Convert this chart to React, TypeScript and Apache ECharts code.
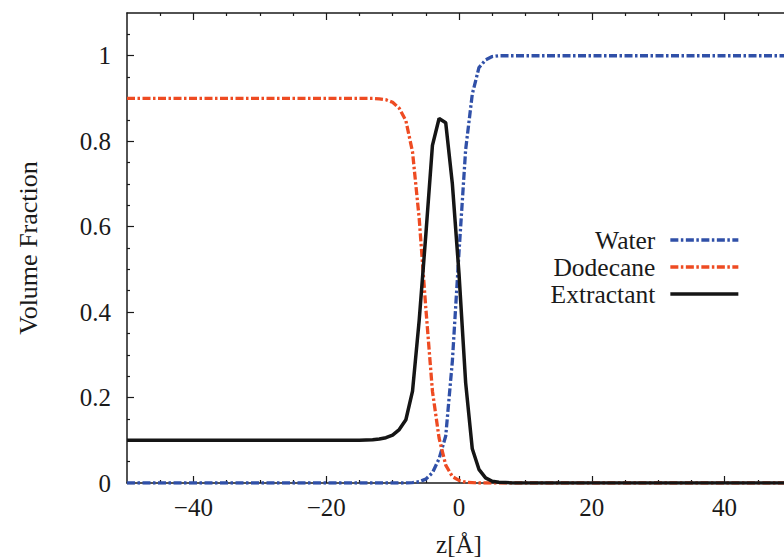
import React, { useEffect, useRef } from "react";
import * as echarts from "echarts";

const zValues = [-50, -40, -30, -20, -15, -13, -12, -11, -10, -9, -8, -7, -6, -5, -4, -3, -2, -1, 0, 1, 2, 3, 4, 5, 6, 7, 8, 10, 20, 30, 40, 50];
const water = [0, 0, 0, 0, 0, 0, 0, 0, 0, 0, 0, 0.001, 0.003, 0.009, 0.024, 0.057, 0.11, 0.285, 0.54, 0.78, 0.91, 0.972, 0.99, 0.998, 1, 1, 1, 1, 1, 1, 1, 1];
const dodecane = [0.9, 0.9, 0.9, 0.9, 0.9, 0.9, 0.899, 0.897, 0.891, 0.877, 0.848, 0.775, 0.62, 0.41, 0.215, 0.105, 0.042, 0.015, 0.006, 0.002, 0.001, 0, 0, 0, 0, 0, 0, 0, 0, 0, 0, 0];
const extractant = [0.1, 0.1, 0.1, 0.1, 0.1, 0.101, 0.103, 0.106, 0.112, 0.125, 0.148, 0.215, 0.38, 0.58, 0.79, 0.853, 0.843, 0.7, 0.49, 0.235, 0.08, 0.032, 0.012, 0.004, 0.002, 0.001, 0, 0, 0, 0, 0, 0];

const xMajorTicks = [-40, -20, 0, 20, 40];
const xMinorTicks = [-45, -35, -30, -25, -15, -10, -5, 5, 10, 15, 25, 30, 35, 45];
const yMajorTicks = [0, 0.2, 0.4, 0.6, 0.8, 1];
const yMinorTicks = [0.05, 0.1, 0.15, 0.25, 0.3, 0.35, 0.45, 0.5, 0.55, 0.65, 0.7, 0.75, 0.85, 0.9, 0.95, 1.05];

const FONT = "Liberation Serif";
const INK = "#1a1a1a";

export default function App() {
  const ref = useRef<HTMLDivElement>(null);
  useEffect(() => {
    if (!ref.current) return;
    const chart = echarts.init(ref.current, undefined, { renderer: "svg" });
    const lineAxis = { show: true, onZero: false, lineStyle: { color: INK, width: 1.5 } };
    const noLine = { show: false, onZero: false };
    const xBase = { type: "value", min: -50, max: 50, splitLine: { show: false } };
    const yBase = { type: "value", min: 0, max: 1.1, splitLine: { show: false } };
    const minus = (v: number) => String(v).replace("-", "\u2212");
    const dash = [8, 2.5, 2.5, 2.5];
    chart.setOption({
      animation: false,
      grid: { left: 127, right: -7, top: 13, bottom: 76, containLabel: false, outerBoundsMode: "none" },
      legend: {
        orient: "vertical",
        right: 39,
        top: 222,
        align: "right",
        itemWidth: 68,
        itemHeight: 14,
        itemGap: 1,
        itemStyle: { opacity: 0 },
        lineStyle: { width: 3.3 },
        textStyle: { fontFamily: FONT, fontSize: 25.5, color: INK, padding: [0, 10, 0, 0] },
        data: ["Water", "Dodecane", "Extractant"],
      },
      xAxis: [
        {
          ...xBase,
          position: "bottom",
          axisLine: lineAxis,
          axisTick: { inside: true, length: 7, customValues: xMajorTicks, lineStyle: { color: INK, width: 1.2 } },
          axisLabel: { customValues: xMajorTicks, formatter: minus, fontFamily: FONT, fontSize: 25, color: INK, margin: 12 },
          name: "z[Å]",
          nameLocation: "middle",
          nameGap: 49,
          nameTextStyle: { fontFamily: FONT, fontSize: 25, color: INK },
        },
        {
          ...xBase,
          position: "bottom",
          axisLine: noLine,
          axisTick: { inside: true, length: 3, customValues: xMinorTicks, lineStyle: { color: INK, width: 1.2 } },
          axisLabel: { show: false },
        },
        {
          ...xBase,
          position: "top",
          axisLine: lineAxis,
          axisTick: { inside: true, length: 7, customValues: xMajorTicks, lineStyle: { color: INK, width: 1.2 } },
          axisLabel: { show: false },
        },
        {
          ...xBase,
          position: "top",
          axisLine: noLine,
          axisTick: { inside: true, length: 3, customValues: xMinorTicks, lineStyle: { color: INK, width: 1.2 } },
          axisLabel: { show: false },
        },
      ],
      yAxis: [
        {
          ...yBase,
          position: "left",
          axisLine: lineAxis,
          axisTick: { inside: true, length: 7, customValues: yMajorTicks, lineStyle: { color: INK, width: 1.2 } },
          axisLabel: { customValues: yMajorTicks, fontFamily: FONT, fontSize: 25, color: INK, margin: 16 },
          name: "Volume Fraction",
          nameLocation: "middle",
          nameGap: 86,
          nameTextStyle: { fontFamily: FONT, fontSize: 26, color: INK },
        },
        {
          ...yBase,
          position: "left",
          axisLine: noLine,
          axisTick: { inside: true, length: 3, customValues: yMinorTicks, lineStyle: { color: INK, width: 1.2 } },
          axisLabel: { show: false },
        },
      ],
      series: [
        {
          name: "Water",
          type: "line",
          xAxisIndex: 0,
          yAxisIndex: 0,
          symbol: "none",
          data: zValues.map((z, i) => [z, water[i]]),
          lineStyle: { color: "#3050a8", width: 3.3, type: dash },
          itemStyle: { color: "#3050a8" },
        },
        {
          name: "Dodecane",
          type: "line",
          xAxisIndex: 0,
          yAxisIndex: 0,
          symbol: "none",
          data: zValues.map((z, i) => [z, dodecane[i]]),
          lineStyle: { color: "#ee4b22", width: 3.3, type: dash },
          itemStyle: { color: "#ee4b22" },
        },
        {
          name: "Extractant",
          type: "line",
          xAxisIndex: 0,
          yAxisIndex: 0,
          symbol: "none",
          data: zValues.map((z, i) => [z, extractant[i]]),
          lineStyle: { color: "#151515", width: 3.5 },
          itemStyle: { color: "#151515" },
        },
      ],
    });
    return () => chart.dispose();
  }, []);
  return (
    <div
      ref={ref}
      style={{ position: "absolute", left: 0, top: 0, width: 784, height: 559, background: "#fff" }}
    />
  );
}
